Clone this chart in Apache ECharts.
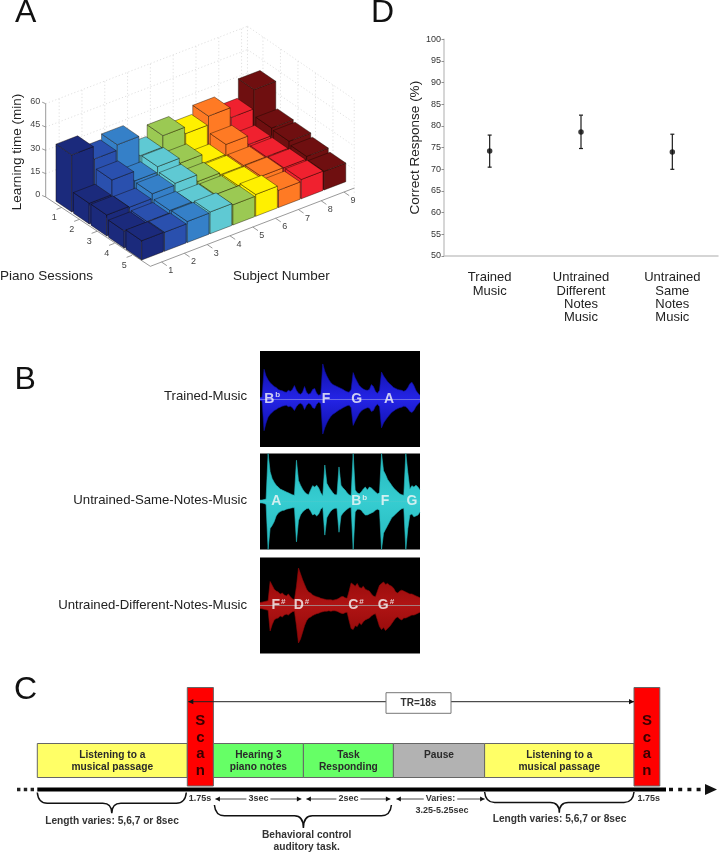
<!DOCTYPE html>
<html>
<head>
<meta charset="utf-8">
<title>Learning time, stimuli, protocol and response</title>
<script src="https://cdn.jsdelivr.net/npm/echarts@6/dist/echarts.min.js"></script>
<style>
html, body { margin: 0; padding: 0; background: #fff; }
#chart { width: 719px; height: 853px; }
</style>
</head>
<body>
<div id="chart"></div>
<script>
// panel A: learning time (min), one list per piano session, subjects 1..9
const subjects = [1, 2, 3, 4, 5, 6, 7, 8, 9]
const sessions = [1, 2, 3, 4, 5]
const session1 = [36.7, 28.5, 32, 19.3, 26.6, 22.3, 27.9, 21.4, 33.7]
const session2 = [13.3, 22.7, 16.5, 20, 16.7, 11, 17.4, 11.8, 16.7]
const session3 = [13.5, 12.9, 15.9, 17, 12.6, 11.4, 11.6, 11.6, 15.9]
const session4 = [11, 11.4, 12.9, 12, 11.8, 12, 12.4, 12.2, 13.9]
const session5 = [12.4, 12.2, 13.5, 14, 13, 14, 11.1, 12.4, 12]
const timeTicks = [0, 15, 30, 45, 60]

// panel D: correct response (%)
const conditions = ['Trained\nMusic', 'Untrained\nDifferent\nNotes\nMusic', 'Untrained\nSame\nNotes\nMusic']
const meanCorrect = [74.2, 78.6, 74]
const errLow = [70.5, 74.8, 70]
const errHigh = [77.9, 82.5, 78.1]

// panel B: waveform envelopes, one value per time bin, % of full scale
const trainedUp = [3,4,62,48,40,34,30,26,24,20,18,17,15,14,18,16,20,28,18,12,10,14,26,14,10,12,20,22,12,8,10,73,58,48,40,34,30,28,26,24,22,20,17,15,14,20,55,44,36,28,24,21,19,18,20,30,26,16,12,18,56,48,42,36,32,28,24,22,20,19,18,16,18,24,32,35,28,18,12,8]
const trainedLow = [3,4,66,50,38,32,28,24,22,19,17,15,14,13,16,15,18,24,16,11,9,12,22,13,9,11,18,20,11,7,10,73,60,50,42,36,32,29,26,23,21,18,16,14,13,18,55,46,38,30,25,22,20,18,19,26,24,15,11,16,60,50,44,38,33,28,25,22,20,18,17,15,16,20,26,28,24,16,11,7]
const sameUp = [3,3,4,5,100,62,48,40,34,30,26,24,22,20,18,16,14,13,86,44,34,26,20,16,14,24,33,30,34,28,18,12,76,38,30,24,18,14,14,72,34,28,24,18,14,12,100,24,18,16,20,26,30,24,30,28,24,20,16,18,100,64,56,46,40,34,28,24,20,16,14,13,100,60,26,33,30,34,30,24]
const sameLow = [3,3,4,6,100,56,50,42,30,24,21,19,18,16,15,14,13,13,84,40,28,22,18,15,14,20,28,26,30,26,16,12,70,34,26,20,16,14,14,64,30,24,20,16,13,12,100,22,16,16,18,24,28,28,26,24,22,18,16,18,100,66,58,50,42,34,30,26,22,18,15,14,100,56,28,26,32,30,28,22]
const differentUp = [6,7,8,9,10,50,42,34,30,28,24,26,22,20,24,18,14,12,40,78,66,54,44,34,28,26,22,20,18,17,15,14,13,12,12,12,11,12,13,15,18,19,16,15,30,47,44,40,46,38,36,40,34,32,30,24,20,18,30,42,46,49,44,46,42,40,36,28,26,30,32,30,28,26,24,24,22,20,18,16]
const differentLow = [6,7,8,9,10,53,40,30,27,26,22,24,20,18,20,16,13,12,42,78,70,56,42,32,26,24,21,19,17,16,14,13,12,12,11,12,11,11,12,14,16,17,15,14,32,48,50,42,44,36,40,34,30,28,26,22,19,17,30,44,50,46,52,48,44,38,32,26,24,28,30,26,26,24,22,20,20,18,16,14]
const trainedNotes = ['B', 'F', 'G', 'A']
const trainedNoteBins = [6, 32.6, 47.8, 63.7]
const trainedMarks = ['b', '', '', '']
const sameNotes = ['A', 'B', 'F', 'G']
const sameNoteBins = [8, 49, 61.7, 75]
const sameMarks = ['', 'b', '', '']
const differentNotes = ['F', 'D', 'C', 'G']
const differentNoteBins = [9.1, 20.5, 47.4, 62.2]
const differentMarks = ['#', '#', '#', '#']
const waveNames = ['Trained-Music', 'Untrained-Same-Notes-Music', 'Untrained-Different-Notes-Music']

// panel C: schematic timeline, durations in drawing units
const blockLabels = ['Listening to a\nmusical passage', 'S\nc\na\nn', 'Hearing 3\npiano notes', 'Task\nResponding', 'Pause', 'Listening to a\nmusical passage', 'S\nc\na\nn']
const blockKinds = ['listen', 'scan', 'task', 'task', 'pause', 'listen', 'scan']
const blockSpans = [5, 0.87, 3, 3, 3.04, 4.98, 0.86]

const FONT = 'Liberation Sans'
const subjectColors = ['#1b2a7c', '#2a50ae', '#3580c8', '#5fc9d3', '#9bc953', '#fff000', '#ff7a24', '#f0212f', '#6f0f10']
const kindColors = { listen: '#ffff66', scan: '#ff0000', task: '#66ff66', pause: '#b2b2b2' }

const sessionValues = [session1, session2, session3, session4, session5]
const edges = [0]
blockSpans.forEach(d => edges.push(edges[edges.length - 1] + d))

// oblique view used by panel A
const sessionShift = -0.115, subjectShift = -0.409
const sessionEnd = 5.85, subjectStart = 0.1, subjectEnd = 9.05
const wallSession = 6.1, wallSubject = 8.85
function project(s, u, z) {
  return [45.7 + 17.5 * s + 22.8 * u, 197 + 12 * s - 8.75 * u - 1.555 * z]
}

// bars, far subjects first so that the near ones cover them
const barData = []
for (let j = subjects.length - 1; j >= 0; j--) {
  sessions.forEach((s, i) => barData.push([s, subjects[j], sessionValues[i][j], j]))
}

function renderBar(params, api) {
  const s = api.value(0) + sessionShift, u = api.value(1) + subjectShift
  const z = api.value(2), color = subjectColors[api.value(3)]
  const hs = 0.45, hu = 0.475
  const p = (a, b, c) => api.coord(project(a, b, c))
  const edge = { stroke: 'rgba(20,10,0,0.6)', lineWidth: 0.7 }
  const face = (points, fill) => ({ type: 'polygon', shape: { points }, style: Object.assign({ fill }, edge) })
  return {
    type: 'group',
    children: [
      face([p(s - hs, u - hu, 0), p(s + hs, u - hu, 0), p(s + hs, u - hu, z), p(s - hs, u - hu, z)], color),
      face([p(s + hs, u - hu, 0), p(s + hs, u + hu, 0), p(s + hs, u + hu, z), p(s + hs, u - hu, z)], color),
      face([p(s - hs, u - hu, z), p(s + hs, u - hu, z), p(s + hs, u + hu, z), p(s - hs, u + hu, z)], color)
    ]
  }
}

function renderWalls(params, api) {
  const p = (a, b, c) => api.coord(project(a, b, c))
  const children = []
  const dotted = { stroke: '#d2d2d2', lineWidth: 0.7, lineDash: [1.2, 2.2] }
  const solid = { stroke: '#808080', lineWidth: 0.8 }
  const seg = (a, b, style) => children.push({ type: 'line', shape: { x1: a[0], y1: a[1], x2: b[0], y2: b[1] }, style })
  const text = (pos, t, align) => children.push({ type: 'text', x: pos[0], y: pos[1], style: { text: t, fill: '#444', fontFamily: FONT, fontSize: 9, align: align || 'center', verticalAlign: 'middle' } })
  timeTicks.forEach(t => {
    if (t > 0) {
      seg(p(0, 0, t), p(0, wallSubject, t), dotted)
      seg(p(0, wallSubject, t), p(wallSession, wallSubject, t), dotted)
    }
  })
  subjects.forEach(j => seg(p(0, j + subjectShift, 0), p(0, j + subjectShift, 60), dotted))
  sessions.forEach(i => seg(p(i + sessionShift, wallSubject, 0), p(i + sessionShift, wallSubject, 60), dotted))
  seg(p(0, wallSubject, 0), p(0, wallSubject, 60), dotted)
  seg(p(wallSession, wallSubject, 0), p(wallSession, wallSubject, 60), dotted)
  // axes
  seg(p(0, 0, 0), p(0, 0, 60), solid)
  seg(p(0, 0, 0), p(sessionEnd, subjectStart, 0), solid)
  seg(p(sessionEnd, subjectStart, 0), p(sessionEnd, subjectEnd, 0), solid)
  timeTicks.forEach(t => {
    const a = p(0, 0, t)
    seg(a, [a[0] - 3.5, a[1] - 1.5], solid)
    text([a[0] - 5.5, a[1] - 2.2], String(t), 'right')
  })
  sessions.forEach(i => {
    const s = i + sessionShift
    seg(p(s, 0.04, 0), p(s, -0.2, 0), solid)
    text(p(i + 0.26, -0.59, 0), String(i))
  })
  subjects.forEach(j => {
    const u = j + subjectShift
    seg(p(sessionEnd, u, 0), p(sessionEnd + 0.3, u, 0), solid)
    text(p(6.5, u - 0.1, 0), String(j))
  })
  return { type: 'group', children }
}

function renderErrorBar(params, api) {
  const x = api.coord([api.value(0), api.value(1)])
  const lo = api.coord([api.value(0), api.value(2)])
  const style = { stroke: '#1c1c1c', lineWidth: 1.2 }
  const line = (x1, y1, x2, y2) => ({ type: 'line', shape: { x1, y1, x2, y2 }, style })
  return {
    type: 'group',
    children: [
      line(x[0], x[1], lo[0], lo[1]),
      line(x[0] - 2, x[1], x[0] + 2, x[1]),
      line(lo[0] - 2, lo[1], lo[0] + 2, lo[1])
    ]
  }
}

function waveSeries(index, up, low, outer, inner, midColor, notes, bins, marks) {
  const xy = index + 2
  const fill = flip => new echarts.graphic.LinearGradient(0, flip ? 1 : 0, 0, flip ? 0 : 1, [
    { offset: 0, color: outer }, { offset: 1, color: inner }
  ])
  const base = flip => ({ type: 'line', xAxisIndex: xy, yAxisIndex: xy, showSymbol: false, silent: true, animation: false,
    lineStyle: { color: outer, width: 0.6 }, areaStyle: { color: fill(flip), opacity: 1 } })
  return [
    Object.assign(base(false), { data: up.map((v, i) => [i, v]) }),
    Object.assign(base(true), { data: low.map((v, i) => [i, -v]),
      markLine: { silent: true, symbol: 'none', animation: false, label: { show: false }, data: [{ yAxis: 0 }], lineStyle: { color: midColor, width: 1, type: 'solid', opacity: 0.9 } } }),
    {
      type: 'scatter', xAxisIndex: xy, yAxisIndex: xy, symbolSize: 1, silent: true, animation: false, z: 5,
      itemStyle: { color: 'rgba(0,0,0,0)' },
      data: notes.map((n, i) => ({ value: [bins[i], 0], name: n, mark: marks[i] })),
      labelLayout: { hideOverlap: false },
      label: {
        show: true, position: 'inside',
        formatter: p => '{n|' + p.name + '}' + (p.data.mark ? '{m|' + p.data.mark + '}' : ''),
        rich: {
          n: { color: '#f8f8f8', fontFamily: FONT, fontSize: 14, fontWeight: 'bold' },
          m: { color: '#f8f8f8', fontFamily: FONT, fontSize: 8, fontWeight: 'bold', padding: [0, 0, 8, 1] }
        }
      }
    }
  ]
}

function renderBlock(params, api) {
  const i = api.value(0), kind = blockKinds[i]
  const isScan = kind === 'scan'
  const a = api.coord([edges[i], isScan ? 687.5 : 743.5])
  const b = api.coord([edges[i + 1], isScan ? 786 : 777.5])
  const cx = (a[0] + b[0]) / 2
  return {
    type: 'group',
    children: [
      { type: 'rect', shape: { x: a[0], y: a[1], width: b[0] - a[0], height: b[1] - a[1] }, style: { fill: kindColors[kind], stroke: '#666', lineWidth: 1 } },
      { type: 'text', x: cx, y: isScan ? 713 : 749, z2: 5, style: {
        text: blockLabels[i], fill: isScan ? '#3a0000' : '#2a2a2a', fontFamily: FONT, fontWeight: 'bold',
        fontSize: isScan ? 15 : 10.2, lineHeight: isScan ? 16.5 : 12, align: 'center', verticalAlign: 'top' } }
    ]
  }
}

// annotations under and above the blocks of panel C
function renderTimeline(params, api) {
  const children = []
  const X = u => api.coord([u, 800])[0]
  const Y = v => api.coord([0, v])[1]
  const seg = (x1, y1, x2, y2, style) => children.push({ type: 'line', shape: { x1, y1, x2, y2 }, style })
  const label = (x, y, t, o) => children.push({ type: 'text', x, y, z2: 6, style: Object.assign({ text: t, fill: '#333', fontFamily: FONT, fontWeight: 'bold', fontSize: 10.2, lineHeight: 12, align: 'center', verticalAlign: 'middle' }, o || {}) })
  const head = (x, y, dir, l, h) => children.push({ type: 'polygon', shape: { points: [[x, y], [x - dir * l, y - h], [x - dir * l, y + h]] }, style: { fill: '#111' } })
  const span = (x1, x2, y, t) => {
    seg(x1, y, x2, y, { stroke: '#333', lineWidth: 0.9 })
    head(x1, y, -1, 4.5, 2.4)
    head(x2, y, 1, 4.5, 2.4)
    if (t) label((x1 + x2) / 2, y, t, { backgroundColor: '#fff', padding: [0, 2], fontSize: 9 })
  }
  const brace = (x1, x2, y0, yf, tip, xm) => {
    const m = xm == null ? (x1 + x2) / 2 : xm
    children.push({ type: 'path', shape: { pathData:
      'M' + x1 + ' ' + y0 + 'Q' + (x1 + 1) + ' ' + yf + ' ' + (x1 + 10) + ' ' + yf +
      'L' + (m - 9) + ' ' + yf + 'Q' + m + ' ' + yf + ' ' + m + ' ' + tip +
      'Q' + m + ' ' + yf + ' ' + (m + 9) + ' ' + yf +
      'L' + (x2 - 10) + ' ' + yf + 'Q' + (x2 - 1) + ' ' + yf + ' ' + x2 + ' ' + y0 },
      style: { fill: 'none', stroke: '#111', lineWidth: 1.5 } })
  }
  // main time line with its dotted ends
  const yLine = Y(789.5)
  seg(X(edges[0]), yLine, 666, yLine, { stroke: '#000', lineWidth: 3.8 })
  seg(17, yLine, 34, yLine, { stroke: '#222', lineWidth: 3.4, lineDash: [3.4, 3.4] })
  seg(669, yLine, 705, yLine, { stroke: '#111', lineWidth: 3.4, lineDash: [4, 5.2] })
  head(717, yLine, 1, 12, 5.5)
  // repetition time
  const yTr = Y(701.7)
  seg(X(edges[1]) + 1, yTr, X(edges[6]), yTr, { stroke: '#222', lineWidth: 1 })
  head(X(edges[1]) + 1, yTr, -1, 5, 2.6)
  head(X(edges[6]), yTr, 1, 5, 2.6)
  children.push({ type: 'rect', shape: { x: 386, y: Y(692.7), width: 65, height: 20.6 }, style: { fill: '#fff', stroke: '#777', lineWidth: 1 } })
  label(418.5, Y(703.3), 'TR=18s', { fontSize: 10 })
  // durations
  label(200, Y(798.7), '1.75s', { fontSize: 9 })
  label(648.7, Y(798.7), '1.75s', { fontSize: 9 })
  const ySpan = Y(799)
  span(X(edges[2]) + 2, X(edges[3]) - 2, ySpan, '3sec')
  span(X(edges[3]) + 3, X(edges[4]) - 3, ySpan, '2sec')
  span(X(edges[4]) + 3, X(edges[5]), ySpan, 'Varies:')
  label(442, Y(810.7), '3.25-5.25sec', { fontSize: 9 })
  // braces
  brace(X(edges[0]), X(edges[1]) - 1, Y(792.5), Y(803.3), Y(813.3))
  brace(X(edges[5]), X(edges[6]), Y(792), Y(802.5), Y(812.8))
  brace(X(edges[2]) + 1, X(edges[4]) - 2, Y(805), Y(815.7), Y(828), X(edges[3]))
  label(112, Y(820.7), 'Length varies: 5,6,7 or 8sec')
  label(559.5, Y(819.5), 'Length varies: 5,6,7 or 8sec')
  label(306.7, Y(841.5), 'Behavioral control\nauditory task.')
  return { type: 'group', children }
}

function hiddenAxis(min, max, extra) {
  return Object.assign({ type: 'value', show: false, min, max, scale: true, splitLine: { show: false } }, extra || {})
}

const chart = echarts.init(document.getElementById('chart'), null, { renderer: 'canvas' })
const waveGrid = top => ({ left: 260, top, width: 160, height: 96, show: true, backgroundColor: '#000', borderWidth: 0 })
const plainText = (text, x, y, size, extra) => ({ type: 'text', x, y, style: Object.assign({ text, fill: '#222', fontFamily: FONT, fontSize: size, align: 'left', verticalAlign: 'middle' }, extra || {}) })

chart.setOption({
  backgroundColor: '#fff',
  animation: false,
  textStyle: { fontFamily: FONT },
  grid: [
    { left: 0, top: 0, width: 400, height: 300 },
    { left: 444, top: 39.3, width: 274, height: 216.7 },
    waveGrid(351), waveGrid(453.5), waveGrid(557.5),
    { left: 0, top: 670, width: 719, height: 183 }
  ],
  xAxis: [
    hiddenAxis(0, 400, { gridIndex: 0 }),
    {
      type: 'category', gridIndex: 1, data: conditions,
      axisLine: { lineStyle: { color: '#c8c8c8', width: 1.5 } }, axisTick: { show: false },
      axisLabel: { color: '#222', fontFamily: FONT, fontSize: 13, lineHeight: 13.3, margin: 15, interval: 0 }
    },
    hiddenAxis(0, 79, { gridIndex: 2 }), hiddenAxis(0, 79, { gridIndex: 3 }), hiddenAxis(0, 79, { gridIndex: 4 }),
    hiddenAxis(-1.2433, 22.7233, { gridIndex: 5 })
  ],
  yAxis: [
    hiddenAxis(0, 300, { gridIndex: 0, inverse: true }),
    {
      type: 'value', gridIndex: 1, min: 50, max: 100, interval: 5,
      name: 'Correct Response (%)', nameLocation: 'middle', nameGap: 22,
      nameTextStyle: { color: '#222', fontFamily: FONT, fontSize: 13.5 },
      axisLine: { show: true, lineStyle: { color: '#c8c8c8', width: 1.5 } },
      axisTick: { show: true, length: 2.5, lineStyle: { color: '#777', width: 0.8 } },
      axisLabel: { color: '#333', fontFamily: FONT, fontSize: 9, margin: 3 },
      splitLine: { show: false }
    },
    hiddenAxis(-100, 100, { gridIndex: 2 }), hiddenAxis(-100, 100, { gridIndex: 3 }), hiddenAxis(-100, 100, { gridIndex: 4 }),
    hiddenAxis(670, 853, { gridIndex: 5, inverse: true })
  ],
  series: [
    { type: 'custom', xAxisIndex: 0, yAxisIndex: 0, clip: false, silent: true, data: [[0, 0]], renderItem: renderWalls },
    { type: 'custom', xAxisIndex: 0, yAxisIndex: 0, clip: false, silent: true, data: barData, renderItem: renderBar },
    {
      type: 'custom', xAxisIndex: 1, yAxisIndex: 1, silent: true,
      data: conditions.map((c, i) => [i, errHigh[i], errLow[i]]), renderItem: renderErrorBar
    },
    {
      type: 'scatter', xAxisIndex: 1, yAxisIndex: 1, silent: true, symbolSize: 5.5,
      itemStyle: { color: '#0c0c0c' }, data: conditions.map((c, i) => [i, meanCorrect[i]])
    },
    ...waveSeries(0, trainedUp, trainedLow, '#0f0fa8', '#2424e6', '#7474e4', trainedNotes, trainedNoteBins, trainedMarks),
    ...waveSeries(1, sameUp, sameLow, '#25b8bd', '#36cdd1', '#45d0d4', sameNotes, sameNoteBins, sameMarks),
    ...waveSeries(2, differentUp, differentLow, '#8e0808', '#b01414', '#a88', differentNotes, differentNoteBins, differentMarks),
    { type: 'custom', xAxisIndex: 5, yAxisIndex: 5, clip: false, silent: true, data: blockLabels.map((l, i) => [i, 760]), renderItem: renderBlock },
    { type: 'custom', xAxisIndex: 5, yAxisIndex: 5, clip: false, silent: true, data: [[0, 800]], renderItem: renderTimeline }
  ],
  graphic: { elements: [
    plainText('A', 15, 13.5, 32, { fill: '#111' }),
    plainText('D', 371, 13.5, 32, { fill: '#111' }),
    plainText('B', 14.5, 380, 32, { fill: '#111' }),
    plainText('C', 14, 690, 32, { fill: '#111' }),
    plainText('Piano Sessions', 0, 276, 13.5),
    plainText('Subject Number', 233, 276, 13.5),
    { type: 'text', x: 17.5, y: 152, rotation: Math.PI / 2, style: { text: 'Learning time (min)', fill: '#222', fontFamily: FONT, fontSize: 13.5, align: 'center', verticalAlign: 'middle' } },
    plainText(waveNames[0], 247, 396, 13.2, { align: 'right' }),
    plainText(waveNames[1], 247, 500, 13.2, { align: 'right' }),
    plainText(waveNames[2], 247, 605.5, 13.2, { align: 'right' })
  ] }
})
</script>
</body>
</html>
